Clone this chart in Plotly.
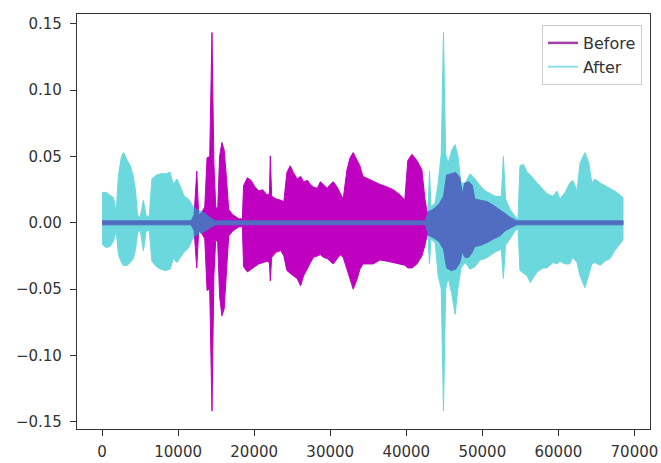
import plotly.graph_objects as go

# ---- data (sample index, envelope upper / lower) ----
before_x = [0, 11700, 12100, 12450, 12700, 13100, 13500, 13800, 14150, 14450, 14700, 14950,
            15200, 15450, 15750, 16050, 16350, 16650, 17200, 18000, 18450, 18600, 19100, 19600,
            20100, 20600, 21100, 21700, 22000, 22120, 22300, 22900, 23500, 23900, 24300, 24740,
            25150, 25650, 26100, 26500, 27000, 27400, 27800, 28300, 28700, 29100, 29600, 30000,
            30400, 30900, 31300, 31700, 32200, 32600, 33020, 33500, 33900, 34300, 35000, 35650,
            36550, 37500, 38300, 39200, 39800, 40200, 40750, 41400, 42050, 42450, 42750, 43500,
            44300, 44900, 45300, 45900, 46500, 47050, 47350, 47700, 48200, 48700, 49000, 49800,
            50600, 51500, 52300, 53000, 53700, 54500, 68500]
before_up = [0.0015, 0.0015, 0.006, 0.039, 0.006, 0.008, 0.012, 0.049, 0.05, 0.1435, 0.045, 0.012,
             0.01, 0.05, 0.0606, 0.055, 0.034, 0.01, 0.006, 0.003, 0.003, 0.028, 0.034, 0.032,
             0.027, 0.024, 0.025, 0.021, 0.022, 0.0505, 0.02, 0.018, 0.017, 0.016, 0.038, 0.043,
             0.038, 0.033, 0.035, 0.031, 0.032, 0.029, 0.027, 0.026, 0.031, 0.029, 0.026, 0.029,
             0.031, 0.027, 0.022, 0.018, 0.040, 0.049, 0.053, 0.048, 0.043, 0.035, 0.033, 0.031,
             0.029, 0.027, 0.025, 0.021, 0.017, 0.047, 0.0517, 0.047, 0.040, 0.018, 0.008, 0.010,
             0.014, 0.02, 0.036, 0.037, 0.038, 0.034, 0.022, 0.030, 0.031, 0.028, 0.018, 0.017,
             0.016, 0.013, 0.010, 0.007, 0.004, 0.0015, 0.0015]
before_lo = [-0.0015, -0.0015, -0.006, -0.034, -0.006, -0.008, -0.012, -0.051, -0.05, -0.142, -0.04, -0.012,
             -0.015, -0.055, -0.0701, -0.065, -0.034, -0.01, -0.006, -0.003, -0.003, -0.033, -0.037, -0.035,
             -0.033, -0.031, -0.03, -0.029, -0.03, -0.0437, -0.026, -0.022, -0.021, -0.025, -0.036, -0.038,
             -0.04, -0.042, -0.0475, -0.04, -0.034, -0.03, -0.026, -0.025, -0.024, -0.026, -0.027, -0.029,
             -0.031, -0.027, -0.024, -0.026, -0.035, -0.042, -0.05, -0.043, -0.035, -0.031, -0.031, -0.031,
             -0.028, -0.029, -0.03, -0.031, -0.032, -0.034, -0.034, -0.031, -0.025, -0.017, -0.009, -0.011,
             -0.014, -0.02, -0.034, -0.036, -0.035, -0.03, -0.022, -0.026, -0.026, -0.022, -0.018, -0.017,
             -0.015, -0.012, -0.01, -0.006, -0.004, -0.0015, -0.0015]

after_x = [0, 500, 1000, 1500, 1850, 2150, 2550, 2840, 3300, 3700, 4100, 4400, 4650, 5000, 5430,
           5800, 6200, 6550, 7150, 7700, 8300, 8950, 9350, 9850, 10300, 10800, 11350, 12000, 12500,
           13300, 14200, 14900, 42500, 42850, 43050, 43250, 43800, 44200, 44600, 44890, 45180, 45500,
           46000, 46420, 46800, 47200, 47750, 48400, 49050, 49700, 50400, 51000, 51700, 52500, 52770,
           53050, 53650, 54300, 54700, 54950, 55400, 55900, 56300, 57200, 58000, 58500, 59300, 59800,
           60200, 60900, 61500, 61900, 62450, 62850, 63500, 64000, 64400, 64800, 65500, 66100, 66800,
           67400, 68100, 68500]
after_up = [0.0226, 0.023, 0.021, 0.019, 0.008, 0.036, 0.050, 0.053, 0.047, 0.043, 0.035, 0.024, 0.006,
            0.004, 0.017, 0.005, 0.005, 0.033, 0.036, 0.037, 0.037, 0.038, 0.029, 0.033, 0.027, 0.02,
            0.018, 0.012, 0.010, 0.008, 0.004, 0.0015, 0.0015, 0.008, 0.039, 0.012, 0.015, 0.03, 0.052,
            0.1435, 0.052, 0.045, 0.055, 0.059, 0.05, 0.03, 0.03, 0.037, 0.033, 0.028, 0.024, 0.022,
            0.02, 0.02, 0.05, 0.018, 0.01, 0.005, 0.003, 0.043, 0.044, 0.038, 0.036, 0.03, 0.025, 0.022,
            0.02, 0.024, 0.018, 0.023, 0.03, 0.032, 0.024, 0.045, 0.053, 0.045, 0.03, 0.033, 0.03, 0.028,
            0.026, 0.024, 0.021, 0.019]
after_lo = [-0.016, -0.0186, -0.018, -0.014, -0.006, -0.024, -0.030, -0.0324, -0.032, -0.030, -0.027, -0.02,
            -0.008, -0.005, -0.021, -0.006, -0.006, -0.029, -0.033, -0.035, -0.036, -0.035, -0.027, -0.030,
            -0.026, -0.022, -0.019, -0.011, -0.009, -0.007, -0.004, -0.0015, -0.0015, -0.008, -0.031, -0.012,
            -0.015, -0.04, -0.05, -0.142, -0.05, -0.041, -0.054, -0.069, -0.049, -0.034, -0.03, -0.035,
            -0.033, -0.028, -0.027, -0.025, -0.022, -0.02, -0.042, -0.017, -0.012, -0.006, -0.004, -0.036,
            -0.038, -0.04, -0.045, -0.037, -0.034, -0.034, -0.03, -0.031, -0.029, -0.031, -0.031, -0.026,
            -0.03, -0.04, -0.049, -0.04, -0.031, -0.03, -0.032, -0.029, -0.027, -0.021, -0.016, -0.013]

y_ticks = [-0.15, -0.10, -0.05, 0.00, 0.05, 0.10, 0.15]
x_ticks = [0, 10000, 20000, 30000, 40000, 50000, 60000, 70000]

BEFORE_COLOR = "#c000c0"
AFTER_COLOR = "#00bcc4"
AFTER_OPACITY = 0.58

fig = go.Figure()


def envelope(xs, up, lo):
    return list(xs) + list(xs)[::-1], list(up) + list(lo)[::-1]


bx, by = envelope(before_x, before_up, before_lo)
fig.add_trace(go.Scatter(x=bx, y=by, mode="lines", fill="toself", fillcolor=BEFORE_COLOR,
                         line=dict(color=BEFORE_COLOR, width=1), showlegend=False,
                         hoverinfo="skip"))
ax, ay = envelope(after_x, after_up, after_lo)
fig.add_trace(go.Scatter(x=ax, y=ay, mode="lines", fill="toself", fillcolor=AFTER_COLOR,
                         line=dict(color=AFTER_COLOR, width=1), opacity=AFTER_OPACITY,
                         showlegend=False, hoverinfo="skip"))

# legend entries (line samples)
fig.add_trace(go.Scatter(x=[None], y=[None], mode="lines", name="Before",
                         line=dict(color="#a040a8", width=2.5)))
fig.add_trace(go.Scatter(x=[None], y=[None], mode="lines", name="After",
                         line=dict(color=AFTER_COLOR, width=2), opacity=0.45))

axis_common = dict(showline=True, linecolor="#333333", linewidth=1.2, mirror=True,
                   ticks="outside", ticklen=6, tickwidth=1.2, tickcolor="#333333",
                   showgrid=False, zeroline=False, automargin=False,
                   tickfont=dict(family="DejaVu Sans", size=15, color="#333333"))

fig.update_layout(
    width=661, height=463,
    margin=dict(l=77, r=11, t=14, b=34),
    paper_bgcolor="white", plot_bgcolor="white",
    xaxis=dict(range=[-3300, 72050], tickvals=x_ticks, ticklabelstandoff=3,
               ticktext=[str(v) for v in x_ticks], **axis_common),
    yaxis=dict(range=[-0.1555, 0.1575], tickvals=y_ticks, ticklabelstandoff=5,
               ticktext=[("\u2212" if v < 0 else "") + f"{abs(v):.2f}" for v in y_ticks],
               **axis_common),
    legend=dict(x=0.986, y=0.9735, xanchor="right", yanchor="top",
                bgcolor="rgba(255,255,255,0.8)", bordercolor="#cccccc", borderwidth=1,
                font=dict(family="DejaVu Sans", size=16, color="#333333"),
                tracegroupgap=0, itemwidth=30),
    showlegend=True,
)

fig.write_html("out.html", config={"displayModeBar": False},
               post_script="document.body.style.margin='0';")
